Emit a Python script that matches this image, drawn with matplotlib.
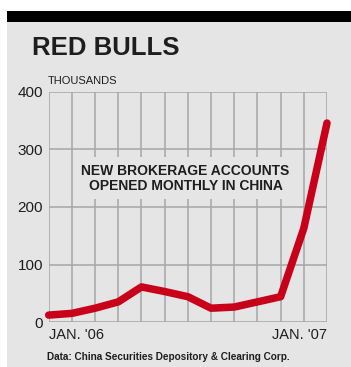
from matplotlib import pyplot as plt
from matplotlib.patches import Rectangle
import numpy as np

# new brokerage accounts, thousands, monthly Jan '06 .. Jan '07
months = np.arange(13)
accounts = [12, 15, 24, 35, 61, 53, 44, 24, 26, 35, 44, 163, 346]
yticks = [0, 100, 200, 300, 400]
xlabels = ["JAN. '06", "JAN. '07"]

BG = "#e4e5e4"
RED = "#c8001a"
GRID = "#a4a6a8"
INK = "#1e1e1e"

plt.rcParams["font.family"] = ["Liberation Sans", "DejaVu Sans"]

fig = plt.figure(figsize=(3.51, 3.67), dpi=100)
fig.patch.set_facecolor("white")

# panel and black header bar
fig.add_artist(Rectangle((7 / 351, 0), 1, 1 - 22 / 367, transform=fig.transFigure,
                         facecolor=BG, edgecolor="none", zorder=0))
fig.add_artist(Rectangle((7 / 351, 1 - 22 / 367), 1, 11 / 367, transform=fig.transFigure,
                         facecolor="black", edgecolor="none", zorder=0))

fig.text(32 / 351, 1 - 48 / 367, "RED BULLS", fontsize=18.5, fontweight="bold",
         va="center", ha="left", color=INK)
fig.text(48 / 351, 1 - 81 / 367, "THOUSANDS", fontsize=8, va="center", ha="left",
         color=INK)

ax = fig.add_axes([48.7 / 351, 1 - 322 / 367, (327 - 48.7) / 351, (322 - 92) / 367])
ax.set_facecolor(BG)
ax.set_xlim(0, 12)
ax.set_ylim(0, 400)
ax.set_yticks(yticks)
ax.set_yticklabels([str(v) for v in yticks], fontsize=11, color=INK)
ax.set_xticks(months)
ax.set_xticklabels([])
ax.tick_params(length=0, pad=4)
ax.grid(True, color=GRID, lw=1.1)
ax.set_axisbelow(True)
for s in ax.spines.values():
    s.set_visible(False)

ax.plot(months, accounts, color=RED, lw=5.4, solid_capstyle="round",
        solid_joinstyle="round", clip_on=False, zorder=5)

ax.text(5.9, 250, "NEW BROKERAGE ACCOUNTS\nOPENED MONTHLY IN CHINA", ha="center",
        va="center", fontsize=10, fontweight="bold", color=INK, linespacing=1.05,
        zorder=4, bbox=dict(facecolor=BG, edgecolor="none", pad=5))

ax.text(0, -10, xlabels[0], transform=ax.transData, ha="left", va="top",
        fontsize=10.5, color=INK)
ax.text(12, -10, xlabels[1], transform=ax.transData, ha="right", va="top",
        fontsize=10.5, color=INK)

fig.text(47 / 351, 1 - 357 / 367, "Data: China Securities Depository & Clearing Corp.",
         fontsize=7.2, fontweight="bold", va="center", ha="left", color=INK)

fig.savefig("out.png", dpi=100)
